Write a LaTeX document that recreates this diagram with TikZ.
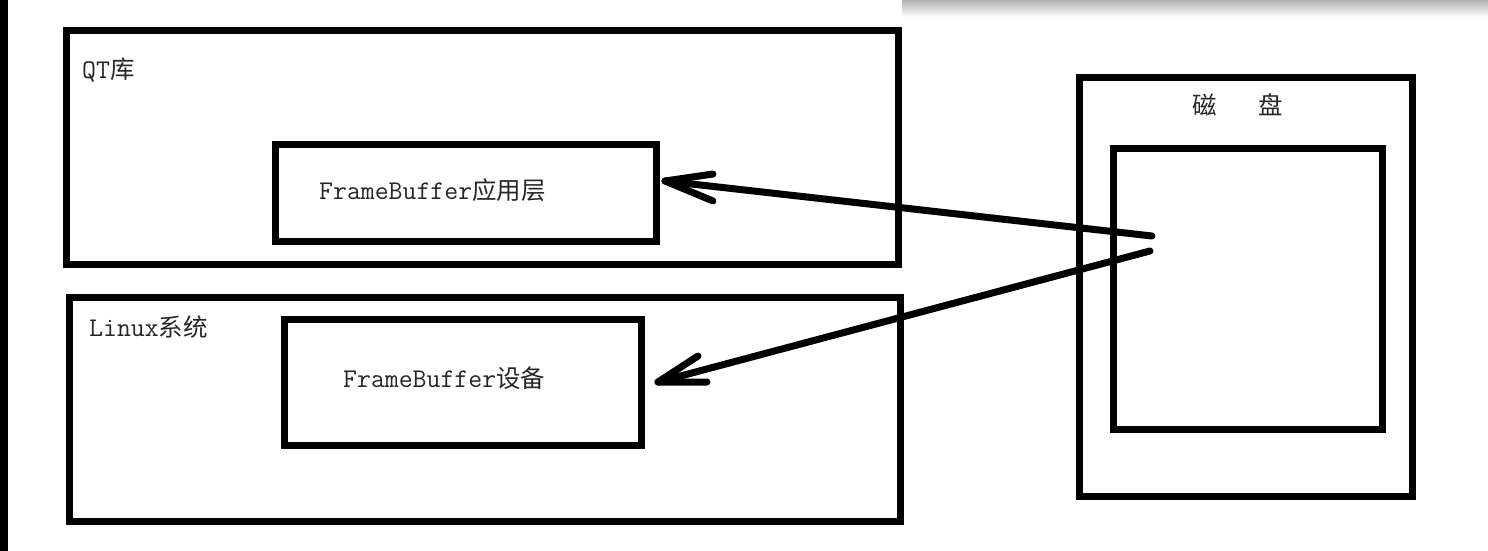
\documentclass[tikz,border=0pt]{standalone}
\usepackage{fontspec}
\newfontfamily\cjk{Noto Sans CJK SC}
\newcommand{\latf}{\ttfamily\fontsize{27}{27}\selectfont}
\newcommand{\cjkf}{\cjk\fontsize{24.5}{24.5}\selectfont}
\begin{document}
\begin{tikzpicture}[x=1pt,y=-1pt,
  box/.style={draw=black,line width=7pt,minimum width=#1,inner sep=0pt,outer sep=0pt},
  lbl/.style={inner sep=0pt,anchor=west,text=black!85},
  arr/.style={line width=7pt,line cap=round,line join=round}]
\useasboundingbox (0,0) rectangle (1488,551);
\fill[white] (0,0) rectangle (1488,551);
% side bar and top shadow
\fill[black] (0,0) rectangle (8,551);
\shade[top color=black!30,bottom color=white] (902,0) rectangle (1488,17);
% boxes
\node[box=832pt,minimum height=234pt] (qt) at (482.5,147.5) {};
\node[box=381pt,minimum height=97pt] (fbapp) at (466,193) {};
\node[box=831pt,minimum height=224pt] (linux) at (485,409.5) {};
\node[box=357pt,minimum height=126pt] (fbdev) at (463,382.5) {};
\node[box=333pt,minimum height=419pt] (disk) at (1246,287) {};
\node[box=269pt,minimum height=281pt] (diskin) at (1248,289) {};
% labels
\node[lbl] (tqt) at (82,70) {{\latf QT}{\cjkf 库}};
\node[lbl] (tfbapp) at (319,190) {{\latf FrameBuffer}{\cjkf 应用层}};
\node[lbl] (tlinux) at (89,327) {{\latf Linux}{\cjkf 系统}};
\node[lbl] (tfbdev) at (343,378) {{\latf FrameBuffer}{\cjkf 设备}};
\node[lbl] (tdisk) at (1192,105) {\cjkf 磁\hspace{42pt}盘};
% arrows
\coordinate (s1) at (1152,236);
\coordinate (t1) at (665,181);
\coordinate (s2) at (1150,251);
\coordinate (t2) at (658,382);
\draw[arr] (s1) -- (t1);
\draw[arr] (713,174) -- (t1) -- (713,201);
\draw[arr] (s2) -- (t2);
\draw[arr] (698,356) -- (t2) -- (707,382);
\end{tikzpicture}
\end{document}
